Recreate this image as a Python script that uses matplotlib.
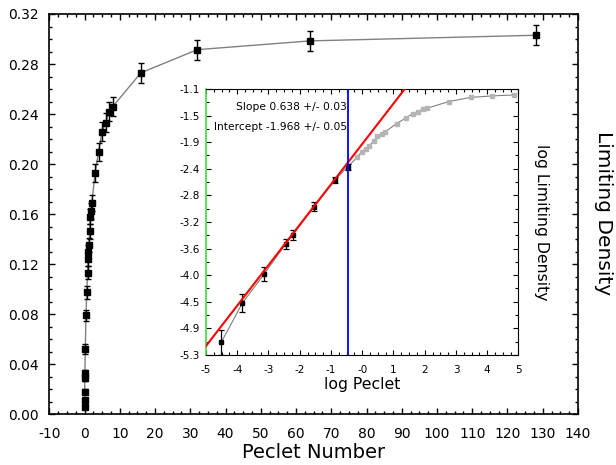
import matplotlib
matplotlib.use("Agg")
import matplotlib.pyplot as plt
from matplotlib.ticker import MultipleLocator, FormatStrFormatter
import numpy as np

plt.rcParams['axes.unicode_minus'] = False

# Peclet number, limiting density and its error
peclet = [0.011, 0.0215, 0.0437, 0.0863, 0.1075, 0.214, 0.419, 0.625,
          0.852, 0.98, 1.116, 1.241, 1.456, 1.616, 1.859, 2.075,
          3, 4, 5, 6, 7, 8, 16, 32, 64, 128]
density = [0.0061, 0.0113, 0.0180, 0.0288, 0.0330, 0.0520, 0.0790, 0.0975,
           0.113, 0.124, 0.130, 0.1353, 0.1465, 0.158, 0.1628, 0.169,
           0.193, 0.210, 0.226, 0.233, 0.242, 0.246, 0.273, 0.2915, 0.2985, 0.303]
error = [0.0012, 0.0016, 0.0020, 0.0023, 0.0026, 0.0040, 0.0042, 0.0050,
         0.0052, 0.0055, 0.0055, 0.0058, 0.0060, 0.0062, 0.0064, 0.0066,
         0.0070, 0.0072, 0.0075, 0.0075, 0.0078, 0.0078, 0.0080, 0.0080, 0.0080, 0.0080]

cutoff = -0.44          # log Peclet where the fit stops
slope = 0.638
intercept = -1.968
inset_xlabels = ['-5', '-4', '-3', '-2', '-1', '-0', '1', '2', '3', '4', '5']

pe = np.array(peclet)
d = np.array(density)
e = np.array(error)
lx = np.log(pe)
ly = np.log(d)
le = e / d
fit = lx <= cutoff

fig = plt.figure(figsize=(6.16, 4.65), dpi=100)

# main plot
ax = fig.add_axes([0.080, 0.109, 0.8583, 0.8609])
ax.plot(pe, d, color='#808080', lw=1.0, zorder=1)
ax.errorbar(pe, d, yerr=e, fmt='s', color='black', ms=4, capsize=2.5,
            elinewidth=1, capthick=1, zorder=2)
ax.set_xlim(-10, 140)
ax.set_ylim(0, 0.32)
ax.xaxis.set_major_locator(MultipleLocator(10))
ax.xaxis.set_minor_locator(MultipleLocator(2.5))
ax.yaxis.set_major_locator(MultipleLocator(0.04))
ax.yaxis.set_minor_locator(MultipleLocator(0.01))
ax.yaxis.set_major_formatter(FormatStrFormatter('%.2f'))
ax.tick_params(which='both', direction='in', top=True, right=True, width=1)
ax.tick_params(which='major', length=4.5, labelsize=10)
ax.tick_params(which='minor', length=2.4)
ax.tick_params(axis='y', which='major', pad=7.5)
ax.tick_params(axis='x', which='major', pad=9)
for s in ax.spines.values():
    s.set_linewidth(1.2)

fig.text(313.5 / 616, 1 - 452 / 465, 'Peclet Number', fontsize=14,
         ha='center', va='center')
fig.text(603 / 616, 1 - 213 / 465, 'Limiting Density', fontsize=14.5,
         rotation=-90, ha='center', va='center')

# inset: log-log
ins = fig.add_axes([0.3344, 0.2366, 0.5073, 0.572])
ins.plot(lx, ly, color='#808080', lw=0.8, zorder=1)
ins.plot(lx[~fit], ly[~fit], 's', color='#b4b4b4', ms=2.8, zorder=2)
ins.errorbar(lx[fit], ly[fit], yerr=le[fit], fmt='s', color='black', ms=2.8,
             capsize=2, elinewidth=0.9, capthick=0.9, zorder=3)
xx = np.array([-5, 5])
ins.plot(xx, slope * xx + intercept, color='red', lw=1.5, zorder=4)
ins.axvline(cutoff, color='blue', lw=1.3, zorder=5)
ins.set_xlim(-5, 5)
ins.set_ylim(-5.3, -1.1)
ins.set_xticks(np.arange(-5, 6, 1))
ins.set_xticklabels(inset_xlabels)
ins.xaxis.set_minor_locator(MultipleLocator(0.25))
yt = np.linspace(-1.1, -5.3, 11)
ins.set_yticks(yt)
ins.set_yticklabels(['%.1f' % v for v in yt])
ins.set_yticks(np.linspace(-1.1, -5.3, 21), minor=True)
ins.tick_params(which='both', direction='in', top=True, right=True, width=0.8)
ins.tick_params(which='major', length=3.5, labelsize=7.5)
ins.tick_params(which='minor', length=2)
ins.tick_params(axis='y', which='major', pad=4.5)
ins.tick_params(axis='x', which='major', pad=7)
ins.spines['left'].set_color('#3fdc3f')
ins.spines['left'].set_linewidth(1.2)

ins.text(0.451, 0.933, 'Slope 0.638 +/- 0.03', transform=ins.transAxes,
         fontsize=7.7, ha='right', va='center')
ins.text(0.451, 0.858, 'Intercept -1.968 +/- 0.05', transform=ins.transAxes,
         fontsize=7.7, ha='right', va='center')

fig.text(362 / 616, 1 - 384 / 465, 'log Peclet', fontsize=11.3,
         ha='center', va='center')
fig.text(542 / 616, 1 - 222 / 465, 'log Limiting Density', fontsize=11.3,
         rotation=-90, ha='center', va='center')

fig.savefig('out.png', dpi=100)
